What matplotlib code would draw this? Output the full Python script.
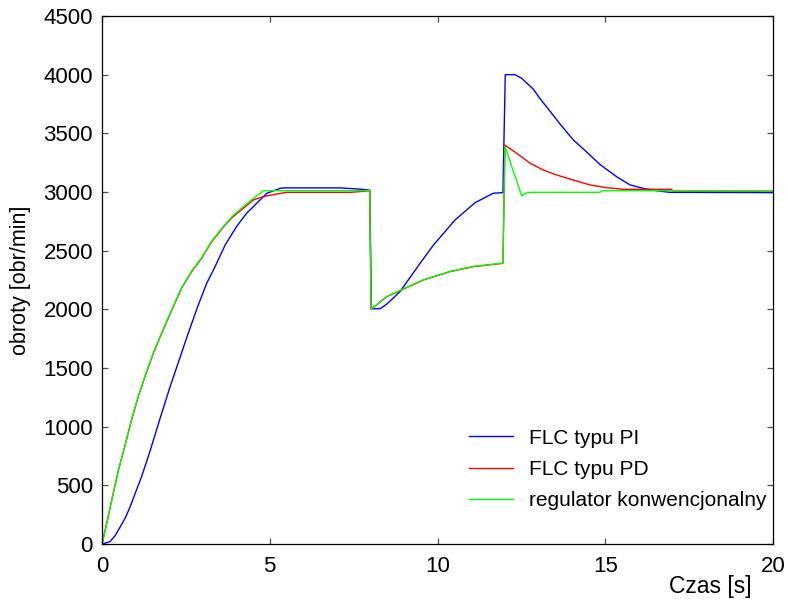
import matplotlib
matplotlib.use("Agg")
import matplotlib.pyplot as plt

# Step response of the motor speed for three controllers
t_pi = [0, 0.24, 0.40, 0.55, 0.70, 0.85, 1.00, 1.18, 1.43, 1.73, 2.03, 2.30,
        2.57, 2.87, 3.12, 3.37, 3.67, 4.01, 4.31, 4.61, 4.91, 5.31, 5.42, 7.10,
        7.75, 7.98, 8.03, 8.29, 8.49, 8.88, 9.48, 9.88, 10.52, 11.12, 11.66,
        11.95, 12.02, 12.31, 12.51, 12.86, 13.05, 13.35, 13.65, 14.05, 14.45,
        14.84, 15.34, 15.74, 16.13, 16.53, 16.93, 20.0]
n_pi = [0, 20, 75, 150, 225, 325, 440, 574, 790, 1070, 1341, 1568,
        1796, 2037, 2222, 2364, 2548, 2705, 2819, 2903, 2989, 3031, 3035, 3035,
        3023, 3015, 2005, 2005, 2045, 2150, 2392, 2548, 2761, 2909, 2989,
        2995, 4000, 4000, 3969, 3875, 3798, 3690, 3580, 3443, 3340,
        3235, 3130, 3060, 3031, 3011, 2997, 2995]

t_pd = [0, 0.14, 0.29, 0.49, 0.69, 0.88, 1.08, 1.28, 1.53, 1.78, 2.08, 2.37,
        2.67, 2.97, 3.27, 3.67, 3.91, 4.21, 4.51, 4.81, 5.21, 5.50, 7.40, 7.98,
        8.02, 8.49, 9.58, 10.37, 11.07, 11.95, 12.01, 12.36, 12.76, 13.15,
        13.55, 14.05, 14.55, 15.04, 15.54, 16.98, 17.00, 20.0]
n_pd = [0, 176, 375, 631, 844, 1057, 1256, 1426, 1625, 1796, 1994, 2179,
        2321, 2435, 2577, 2719, 2790, 2861, 2932, 2961, 2983, 2997, 2997, 3010,
        2000, 2108, 2250, 2321, 2364, 2392, 3400, 3330, 3245, 3188,
        3145, 3102, 3060, 3037, 3023, 3023, 3009, 3009]

t_conv = [0, 0.14, 0.29, 0.49, 0.69, 0.88, 1.08, 1.28, 1.53, 1.78, 2.08,
          2.37, 2.67, 2.97, 3.27, 3.67, 3.91, 4.21, 4.51, 4.81, 7.98, 8.02,
          8.49, 9.58, 10.37, 11.07, 11.95, 12.01, 12.51, 12.61, 12.76, 14.84,
          14.90, 20.0]
n_conv = [0, 170, 372, 628, 846, 1060, 1258, 1430, 1630, 1800, 1998,
          2182, 2326, 2440, 2582, 2724, 2800, 2875, 2945, 3011, 3011, 2000,
          2110, 2252, 2323, 2366, 2394, 3390, 2966, 2989, 2997, 2997,
          3011, 3011]

labels = ["FLC typu PI", "FLC typu PD", "regulator konwencjonalny"]
colors = ["#0000ff", "#ff0000", "#00ff00"]

x_ticks = [0, 5, 10, 15, 20]
y_ticks = [0, 500, 1000, 1500, 2000, 2500, 3000, 3500, 4000, 4500]

plt.rcParams["font.family"] = ["Liberation Sans", "DejaVu Sans"]

fig = plt.figure(figsize=(7.88, 6.04), dpi=100)
ax = fig.add_axes([102 / 788, 1 - 544 / 604, 671 / 788, 528 / 604])

for t, n, lab, c in zip([t_pi, t_pd, t_conv], [n_pi, n_pd, n_conv], labels, colors):
    ax.plot(t, n, color=c, lw=1.0, label=lab)

ax.set_xlim(0, 20)
ax.set_ylim(0, 4500)
ax.set_xticks(x_ticks)
ax.set_yticks(y_ticks)
ax.tick_params(direction="in", length=4.5, width=0.9, color="#505050",
               top=True, right=True, labelsize=16, pad=6.5)
ax.tick_params(axis="x", pad=8.5)
for s in ax.spines.values():
    s.set_linewidth(0.9)
    s.set_color("black")

fig.text(21 / 788, 1 - 280 / 604, "obroty [obr/min]", rotation=90,
         ha="center", va="center", fontsize=15.5)
fig.text(752 / 788, 1 - 586 / 604, "Czas [s]", ha="right", va="center",
         fontsize=16.5)

ax.legend(loc="center left", bbox_to_anchor=(469 / 788, 1 - 469.5 / 604),
          bbox_transform=fig.transFigure, frameon=False, fontsize=15,
          handlelength=2.1, handletextpad=0.8, labelspacing=0.6,
          borderpad=0, borderaxespad=0)

fig.savefig("out.png", dpi=100)
